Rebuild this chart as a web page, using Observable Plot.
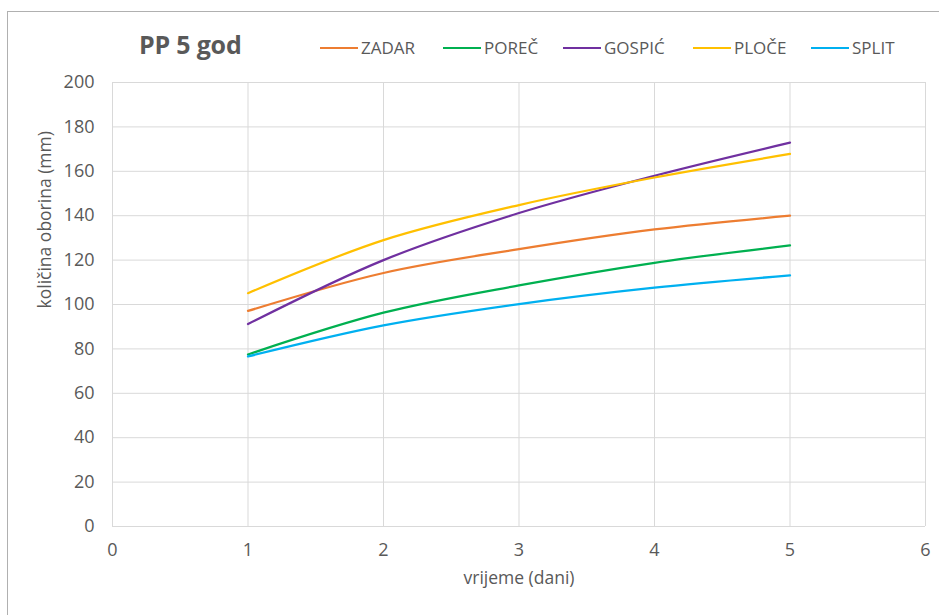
<!DOCTYPE html>
<html>
<head>
<meta charset="utf-8">
<script src="https://cdn.jsdelivr.net/npm/d3@7"></script>
<script src="https://cdn.jsdelivr.net/npm/@observablehq/plot@0.6"></script>
<style>
  html, body { margin: 0; padding: 0; background: #fff; }
  #wrap { position: relative; width: 939px; height: 615px; overflow: hidden; font-family: "Open Sans", Lato, sans-serif; color: #595959; }
  #frame { position: absolute; left: 7px; top: 11px; width: 960px; height: 640px; border: 1.5px solid #b0b0b0; box-sizing: border-box; pointer-events: none; }
  #title { position: absolute; left: 139px; top: 27px; font-size: 25px; font-weight: bold; color: #595959; letter-spacing: -0.2px; }
  #legend { position: absolute; top: 36px; left: 0; height: 24px; font-size: 17px; color: #595959; }
  .item { position: absolute; display: flex; align-items: center; white-space: nowrap; }
  .sw { width: 38px; height: 0; border-top: 2.5px solid; margin-right: 3px; }
  svg { position: absolute; left: 0; top: 0; }
  svg text { font-size: inherit; }
</style>
</head>
<body>
<div id="wrap">
  <div id="title">PP 5 god</div>
  <div id="legend"></div>
  <div id="chart"></div>
  <div id="frame"></div>
</div>
<script>
const days = [1, 2, 3, 4, 5];
const seriesNames = ["ZADAR", "POREČ", "GOSPIĆ", "PLOČE", "SPLIT"];
const seriesColors = ["#ED7D31", "#00B050", "#7030A0", "#FFC000", "#00B0F0"];
const zadar  = [97.1, 114.2, 124.9, 133.8, 140.0];
const porec  = [77.5, 96.3, 108.6, 118.8, 126.6];
const gospic = [91.2, 120.0, 141.2, 158.0, 172.9];
const ploce  = [105.1, 129.0, 144.8, 157.2, 167.8];
const split  = [76.6, 90.6, 100.2, 107.6, 113.1];
const xTicks = [0, 1, 2, 3, 4, 5, 6];
const yTicks = [0, 20, 40, 60, 80, 100, 120, 140, 160, 180, 200];
const legendX = [320, 443, 563, 693, 811];

const seriesValues = [zadar, porec, gospic, ploce, split];
const data = [];
seriesNames.forEach((name, i) => {
  days.forEach((d, j) => data.push({series: name, day: d, value: seriesValues[i][j]}));
});

const FONT = "'Open Sans', Lato, sans-serif";
const chart = Plot.plot({
  width: 939,
  height: 615,
  marginLeft: 112,
  marginRight: 14,
  marginTop: 82,
  marginBottom: 89,
  style: {fontFamily: FONT, fontSize: "18px", color: "#595959", background: "transparent"},
  x: {domain: [0, 6], label: null},
  y: {domain: [0, 200], label: null},
  color: {domain: seriesNames, range: seriesColors},
  marks: [
    Plot.gridX(xTicks, {stroke: "#d9d9d9", strokeOpacity: 1, strokeWidth: 1}),
    Plot.gridY(yTicks, {stroke: "#d9d9d9", strokeOpacity: 1, strokeWidth: 1}),
    Plot.axisX(xTicks, {tickSize: 0, tickPadding: 17, tickFormat: d3.format("d"), label: null, fontSize: 18, fill: "#595959"}),
    Plot.axisY(yTicks, {tickSize: 0, tickPadding: 18, tickFormat: d3.format("d"), label: null, fontSize: 18, fill: "#595959"}),
    Plot.line(data, {x: "day", y: "value", z: "series", stroke: "series", strokeWidth: 2.25, curve: "catmull-rom"}),
    Plot.text(["vrijeme (dani)"], {frameAnchor: "bottom", dy: 57, text: d => d, fontSize: 17.5, fill: "#595959"}),
    Plot.text(["količina oborina (mm)"], {frameAnchor: "left", dx: -67, dy: 4, rotate: -90, text: d => d, fontSize: 17.5, fill: "#595959"})
  ]
});
document.getElementById("chart").appendChild(chart);

const legend = document.getElementById("legend");
seriesNames.forEach((name, i) => {
  const it = document.createElement("div");
  it.className = "item";
  it.style.left = legendX[i] + "px";
  const sw = document.createElement("span");
  sw.className = "sw";
  sw.style.borderColor = seriesColors[i];
  const t = document.createElement("span");
  t.textContent = name;
  it.appendChild(sw);
  it.appendChild(t);
  legend.appendChild(it);
});
</script>
</body>
</html>
